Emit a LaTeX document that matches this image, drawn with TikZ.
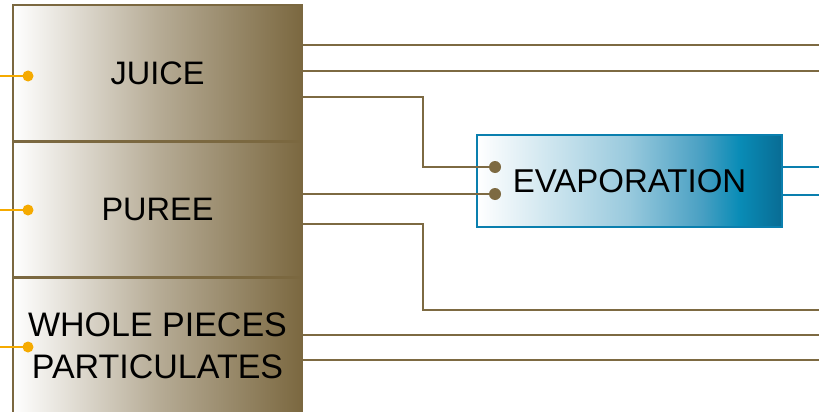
\documentclass[tikz,border=0pt]{standalone}
\usepackage{fontspec}
\setmainfont{Liberation Sans}
\definecolor{brownC}{HTML}{7B6840}
\definecolor{lineC}{HTML}{7D6A42}
\definecolor{blueC}{HTML}{0A7FAE}
\definecolor{orangeC}{HTML}{F5AA00}
\pgfdeclarehorizontalshading{brownshade}{100bp}{color(0bp)=(white); color(25bp)=(white); color(50bp)=(brownC!55!white); color(75bp)=(brownC); color(100bp)=(brownC)}
\pgfdeclarehorizontalshading{blueshade}{100bp}{color(0bp)=(white); color(25bp)=(white); color(40bp)=(blueC!25!white); color(50bp)=(blueC!42!white); color(62bp)=(blueC!75!white); color(68bp)=(blueC!90!cyan); color(75bp)=(blueC!85!black); color(100bp)=(blueC!85!black)}
\tikzset{
  srcbox/.style={draw=brownC, line width=1.6pt, shading=brownshade, rectangle, minimum width=289pt, inner sep=0pt, font=\fontsize{32.5}{42}\selectfont, align=center},
  evapbox/.style={draw=blueC, line width=2.2pt, shading=blueshade, rectangle, minimum width=305pt, minimum height=92pt, inner sep=0pt, font=\fontsize{33}{40}\selectfont},
  bline/.style={draw=lineC, line width=2.3pt},
  oline/.style={draw=orangeC, line width=2.3pt},
  blueline/.style={draw=blueC, line width=2.3pt},
  odot/.style={circle, fill=orangeC, inner sep=0pt, minimum size=11pt},
  bdot/.style={circle, fill=lineC, inner sep=0pt, minimum size=12pt}
}
\begin{document}
\begin{tikzpicture}[x=1pt,y=-1pt]
\useasboundingbox (0,0) rectangle (819,412);
\begin{scope}
\clip (0,0) rectangle (819,412);
\node[srcbox, minimum height=136pt] (juice) at (157.5,73) {JUICE};
\node[srcbox, minimum height=135pt] (puree) at (157.5,209.5) {PUREE};
\node[srcbox, minimum height=140pt] (whole) at (157.5,348) {};
\end{scope}
\node[font=\fontsize{34}{42}\selectfont, align=center, inner sep=0pt] (wholetext) at (157.5,346) {WHOLE PIECES\\PARTICULATES};
\node[evapbox] (evap) at (629.5,181) {EVAPORATION};
% left orange inputs
\node[odot] (ld1) at (28,76) {};
\node[odot] (ld2) at (28,210) {};
\node[odot] (ld3) at (28,347) {};
\coordinate (l1) at (0,76);
\coordinate (l2) at (0,210);
\coordinate (l3) at (0,347);
\draw[oline] (l1) -- (ld1.center);
\draw[oline] (l2) -- (ld2.center);
\draw[oline] (l3) -- (ld3.center);
% right ends
\coordinate (r1) at (819,45);
\coordinate (r2) at (819,71);
\coordinate (r3) at (819,310);
\coordinate (r4) at (819,335);
\coordinate (r5) at (819,360);
\coordinate (r6) at (819,167);
\coordinate (r7) at (819,195);
\coordinate (j3) at (303,97);
\coordinate (p2) at (303,224);
% evaporation input dots
\node[bdot] (e1) at (495,167) {};
\node[bdot] (e2) at (495,194) {};
% juice outputs
\draw[bline] (juice.east |- r1) -- (r1);
\draw[bline] (juice.east |- r2) -- (r2);
\draw[bline] (juice.east |- j3) -- (423,97) -- (423,167) -- (e1.center);
% puree outputs
\draw[bline] (puree.east |- e2) -- (e2.center);
\draw[bline] (puree.east |- p2) -- (423,224) -- (423,310) -- (r3);
% whole outputs
\draw[bline] (whole.east |- r4) -- (r4);
\draw[bline] (whole.east |- r5) -- (r5);
% evaporation outputs
\draw[blueline] (evap.east |- r6) -- (r6);
\draw[blueline] (evap.east |- r7) -- (r7);
\end{tikzpicture}
\end{document}
